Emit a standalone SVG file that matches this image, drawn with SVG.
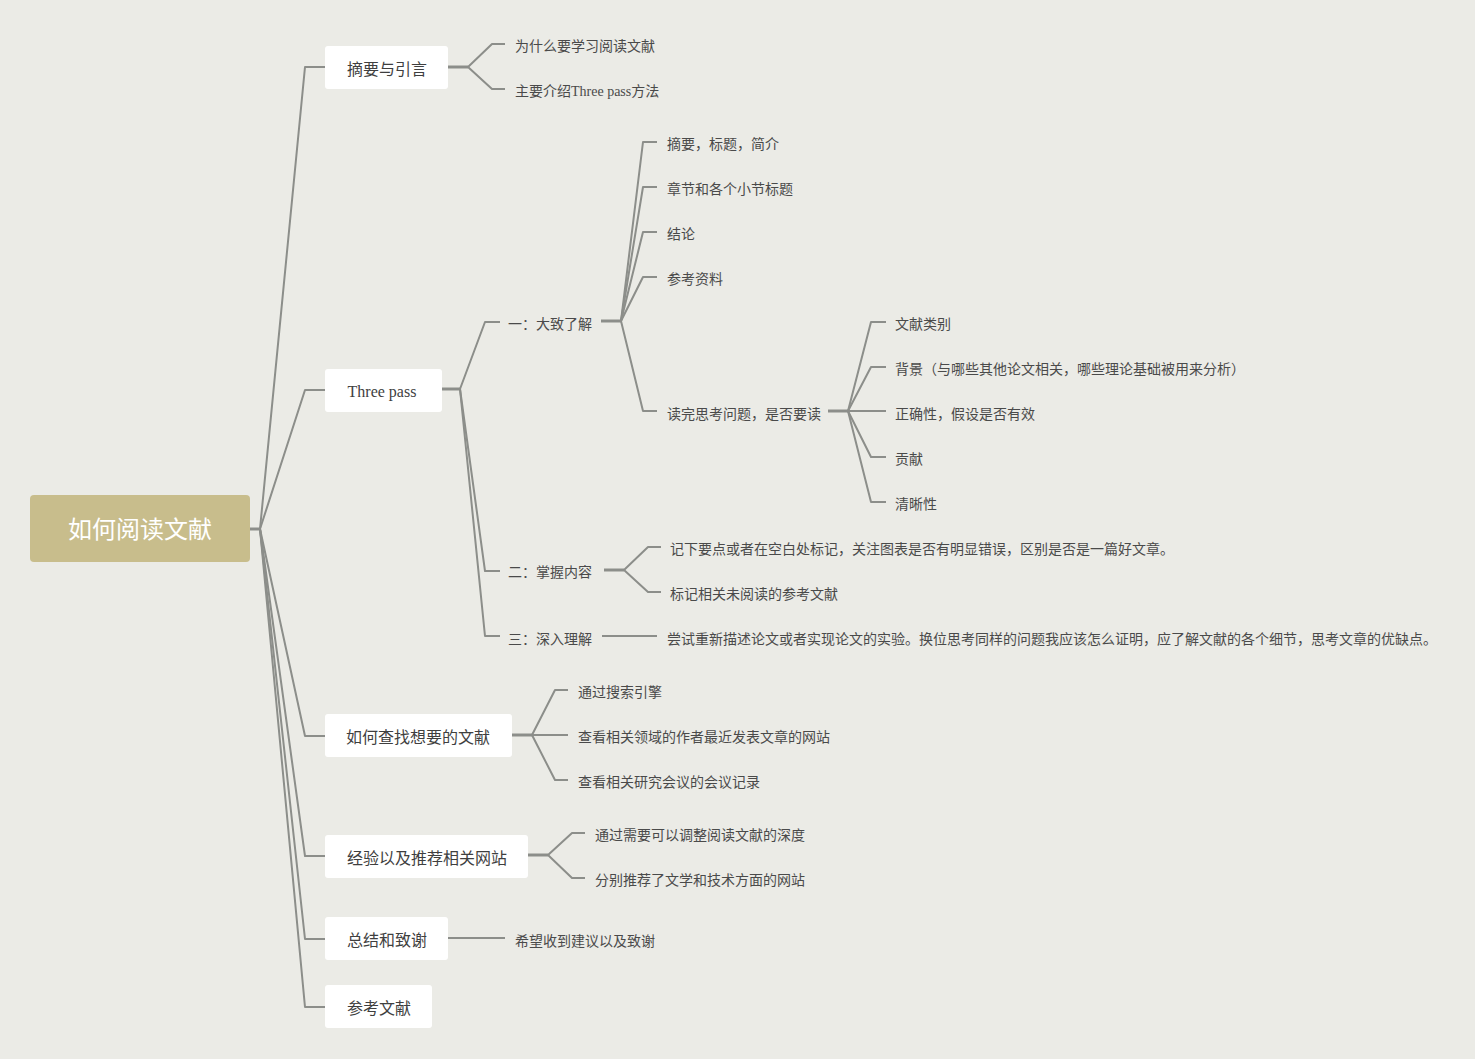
<svg xmlns="http://www.w3.org/2000/svg" width="1475" height="1059" viewBox="0 0 1475 1059">
  <style>
    .bg { fill: #ebebe6; }
    .root rect { fill: #c8bd8c; }
    .root text { fill: #ffffff; font-size: 24px; }
    .main rect { fill: #ffffff; }
    .main text { fill: #3f3f3f; font-size: 16px; }
    .leaf text { fill: #4a4a4a; font-size: 14px; }
    text { font-family: "Liberation Serif", "Noto Sans CJK SC", serif; dominant-baseline: central; }
    .links path { fill: none; stroke: #8c8e8a; stroke-width: 2; stroke-linejoin: round; }
    .links .stem { stroke-width: 3; }
  </style>
  <rect class="bg" x="0" y="0" width="1475" height="1059"/>

  <g class="links">
    <!-- root to main topics -->
    <path class="stem" d="M250,529 H260"/>
    <path d="M260,529 L305,67 H325"/>
    <path d="M260,529 L305,390 H325"/>
    <path d="M260,529 L305,736 H325"/>
    <path d="M260,529 L305,856 H325"/>
    <path d="M260,529 L305,939 H325"/>
    <path d="M260,529 L305,1007 H325"/>

    <!-- 摘要与引言 -->
    <path class="stem" d="M448,67 H468"/>
    <path d="M468,67 L492,44 H505"/>
    <path d="M468,67 L492,89 H505"/>

    <!-- Three pass -->
    <path class="stem" d="M442,389 H460"/>
    <path d="M460,389 L485,322 H500"/>
    <path d="M460,389 L485,571 H500"/>
    <path d="M460,389 L485,636 H500"/>

    <!-- 一：大致了解 -->
    <path class="stem" d="M601,321 H621"/>
    <path d="M621,321 L643,142 H657"/>
    <path d="M621,321 L643,187 H657"/>
    <path d="M621,321 L643,232 H657"/>
    <path d="M621,321 L643,277 H657"/>
    <path d="M621,321 L643,411 H657"/>

    <!-- 读完思考问题，是否要读 -->
    <path class="stem" d="M828,411 H848"/>
    <path d="M848,411 L871,322 H886"/>
    <path d="M848,411 L871,367 H886"/>
    <path d="M848,411 L871,411 H886"/>
    <path d="M848,411 L871,457 H886"/>
    <path d="M848,411 L871,502 H886"/>

    <!-- 二：掌握内容 -->
    <path class="stem" d="M604,570 H624"/>
    <path d="M624,570 L648,547 H661"/>
    <path d="M624,570 L648,592 H661"/>

    <!-- 三：深入理解 -->
    <path d="M602,636 H657"/>

    <!-- 如何查找想要的文献 -->
    <path class="stem" d="M512,735 H532"/>
    <path d="M532,735 L555,690 H568"/>
    <path d="M532,735 L555,735 H568"/>
    <path d="M532,735 L555,780 H568"/>

    <!-- 经验以及推荐相关网站 -->
    <path class="stem" d="M528,855 H548"/>
    <path d="M548,855 L572,833 H585"/>
    <path d="M548,855 L572,878 H585"/>

    <!-- 总结和致谢 -->
    <path d="M448,938 H505"/>
  </g>

  <g id="root" class="root">
    <rect x="30" y="495" width="220" height="67" rx="4"/>
    <text x="140" y="530" text-anchor="middle">如何阅读文献</text>
  </g>

  <g id="n-abstract" class="main">
    <rect x="325" y="46" width="123" height="43" rx="3"/>
    <text x="387" y="69" text-anchor="middle">摘要与引言</text>
  </g>
  <g id="n-why" class="leaf"><text x="515" y="46">为什么要学习阅读文献</text></g>
  <g id="n-intro" class="leaf"><text x="515" y="91">主要介绍Three pass方法</text></g>

  <g id="n-threepass" class="main">
    <rect x="325" y="369" width="117" height="43" rx="3"/>
    <text x="382" y="391" text-anchor="middle">Three pass</text>
  </g>

  <g id="n-pass1" class="leaf"><text x="508" y="324">一：大致了解</text></g>
  <g id="n-p1a" class="leaf"><text x="667" y="144">摘要，标题，简介</text></g>
  <g id="n-p1b" class="leaf"><text x="667" y="189">章节和各个小节标题</text></g>
  <g id="n-p1c" class="leaf"><text x="667" y="234">结论</text></g>
  <g id="n-p1d" class="leaf"><text x="667" y="279">参考资料</text></g>
  <g id="n-p1e" class="leaf"><text x="667" y="414">读完思考问题，是否要读</text></g>
  <g id="n-q1" class="leaf"><text x="895" y="324">文献类别</text></g>
  <g id="n-q2" class="leaf"><text x="895" y="369">背景（与哪些其他论文相关，哪些理论基础被用来分析）</text></g>
  <g id="n-q3" class="leaf"><text x="895" y="414">正确性，假设是否有效</text></g>
  <g id="n-q4" class="leaf"><text x="895" y="459">贡献</text></g>
  <g id="n-q5" class="leaf"><text x="895" y="504">清晰性</text></g>

  <g id="n-pass2" class="leaf"><text x="508" y="572">二：掌握内容</text></g>
  <g id="n-p2a" class="leaf"><text x="670" y="549">记下要点或者在空白处标记，关注图表是否有明显错误，区别是否是一篇好文章。</text></g>
  <g id="n-p2b" class="leaf"><text x="670" y="594">标记相关未阅读的参考文献</text></g>

  <g id="n-pass3" class="leaf"><text x="508" y="639">三：深入理解</text></g>
  <g id="n-p3a" class="leaf"><text x="667" y="639">尝试重新描述论文或者实现论文的实验。换位思考同样的问题我应该怎么证明，应了解文献的各个细节，思考文章的优缺点。</text></g>

  <g id="n-search" class="main">
    <rect x="325" y="714" width="187" height="43" rx="3"/>
    <text x="418" y="737" text-anchor="middle">如何查找想要的文献</text>
  </g>
  <g id="n-s1" class="leaf"><text x="578" y="692">通过搜索引擎</text></g>
  <g id="n-s2" class="leaf"><text x="578" y="737">查看相关领域的作者最近发表文章的网站</text></g>
  <g id="n-s3" class="leaf"><text x="578" y="782">查看相关研究会议的会议记录</text></g>

  <g id="n-exp" class="main">
    <rect x="325" y="835" width="203" height="43" rx="3"/>
    <text x="427" y="858" text-anchor="middle">经验以及推荐相关网站</text>
  </g>
  <g id="n-e1" class="leaf"><text x="595" y="835">通过需要可以调整阅读文献的深度</text></g>
  <g id="n-e2" class="leaf"><text x="595" y="880">分别推荐了文学和技术方面的网站</text></g>

  <g id="n-summary" class="main">
    <rect x="325" y="917" width="123" height="43" rx="3"/>
    <text x="387" y="940" text-anchor="middle">总结和致谢</text>
  </g>
  <g id="n-thanks" class="leaf"><text x="515" y="941">希望收到建议以及致谢</text></g>

  <g id="n-refs" class="main">
    <rect x="325" y="985" width="107" height="43" rx="3"/>
    <text x="379" y="1008" text-anchor="middle">参考文献</text>
  </g>
</svg>
